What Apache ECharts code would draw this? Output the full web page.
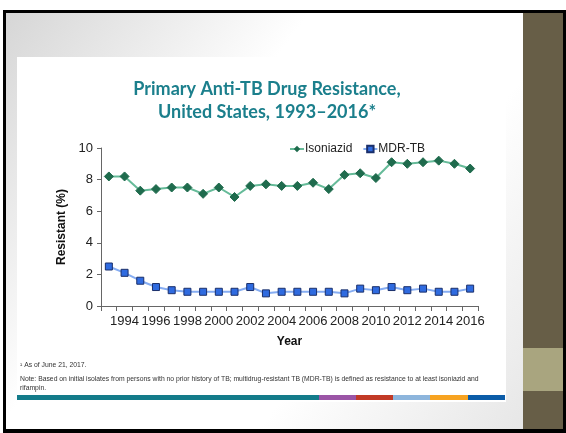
<!DOCTYPE html>
<html>
<head>
<meta charset="utf-8">
<script src="https://cdn.jsdelivr.net/npm/echarts@6/dist/echarts.min.js"></script>
<style>
  html, body { margin: 0; padding: 0; background: #ffffff; }
  #chart { width: 566px; height: 433px; }
</style>
</head>
<body>
<div id="chart"></div>
<script>
// Survey years and percent resistant among initial isolates
const years = ['1993','1994','1995','1996','1997','1998','1999','2000','2001','2002','2003','2004',
               '2005','2006','2007','2008','2009','2010','2011','2012','2013','2014','2015','2016'];
const isoniazid = [8.2, 8.2, 7.3, 7.4, 7.5, 7.5, 7.1, 7.5, 6.9, 7.6, 7.7, 7.6,
                   7.6, 7.8, 7.4, 8.3, 8.4, 8.1, 9.1, 9.0, 9.1, 9.2, 9.0, 8.7];
const mdrTB = [2.5, 2.1, 1.6, 1.2, 1.0, 0.9, 0.9, 0.9, 0.9, 1.2, 0.8, 0.9,
               0.9, 0.9, 0.9, 0.8, 1.1, 1.0, 1.2, 1.0, 1.1, 0.9, 0.9, 1.1];
const yTicks = [0, 2, 4, 6, 8, 10];
const stripeColors = ['#137b8a', '#9b55a6', '#c23a26', '#8db5dc', '#f7a321', '#0b5ca8'];

const narrow = '"Liberation Sans Narrow", "Liberation Sans", Arial, sans-serif';
const chart = echarts.init(document.getElementById('chart'), null, { renderer: 'canvas' });

// slide frame, side panel and footer stripe
const slide = [
  { type: 'rect', z: -10, shape: { x: 3, y: 10, width: 563, height: 423 },
    style: { fill: '#000000' } },
  { type: 'rect', z: -9, shape: { x: 6, y: 13, width: 557, height: 416 },
    style: { fill: new echarts.graphic.LinearGradient(0, 0, 1, 1, [
      { offset: 0, color: '#d6d6d6' }, { offset: 0.35, color: '#ffffff' },
      { offset: 0.65, color: '#ffffff' }, { offset: 1, color: '#e3e3e3' }]) } },
  { type: 'rect', z: -8, shape: { x: 523, y: 13, width: 40, height: 416 },
    style: { fill: '#675e47' } },
  { type: 'rect', z: -7, shape: { x: 523, y: 348, width: 40, height: 43 },
    style: { fill: '#a9a57f' } },
  { type: 'rect', z: -6, shape: { x: 17, y: 57, width: 489, height: 345 },
    style: { fill: '#ffffff' } },
  { type: 'text', left: 20, top: 362, style: {
      text: '¹ As of June 21, 2017.', font: '6.8px ' + narrow, fill: '#333' } },
  { type: 'text', left: 20, top: 375, style: {
      text: 'Note: Based on initial isolates from persons with no prior history of TB; multidrug-resistant TB (MDR-TB) is defined as resistance to at least isoniazid and\nrifampin.',
      font: '6.8px ' + narrow, fill: '#333', lineHeight: 9 } }
];
const stripeEdges = [17, 319, 356, 393, 430, 468, 505];
stripeColors.forEach((c, i) => {
  slide.push({ type: 'rect', z: -5,
    shape: { x: stripeEdges[i], y: 395, width: stripeEdges[i + 1] - stripeEdges[i], height: 5 },
    style: { fill: c } });
});

chart.setOption({
  animation: false,
  title: {
    text: 'Primary Anti-TB Drug Resistance,\nUnited States, 1993–2016*',
    left: 262, top: 73, textAlign: 'center',
    textStyle: { fontFamily: 'Lato, "Open Sans", sans-serif', fontSize: 18, fontWeight: 'bold',
                 color: '#1b7f8c', lineHeight: 23 }
  },
  legend: {
    left: 284, top: 138, itemWidth: 14, itemHeight: 8, itemGap: 10,
    textStyle: { fontFamily: narrow, fontSize: 12, color: '#222', padding: [0, 0, 0, -4] },
    data: ['Isoniazid', 'MDR-TB']
  },
  graphic: slide,
  grid: { left: 101, right: 88, top: 148, bottom: 127, containLabel: false },
  xAxis: {
    type: 'category', data: years, boundaryGap: true,
    name: 'Year', nameLocation: 'middle', nameGap: 30,
    nameTextStyle: { fontFamily: 'Liberation Sans, Arial, sans-serif', fontWeight: 'bold', fontSize: 12, color: '#111' },
    axisLine: { lineStyle: { color: '#666', width: 1 } },
    axisTick: { show: true, interval: 0, length: 5, lineStyle: { color: '#666' } },
    axisLabel: { interval: (i) => i % 2 === 1, fontFamily: narrow, fontSize: 13, color: '#222', margin: 9 }
  },
  yAxis: {
    type: 'value', min: yTicks[0], max: yTicks[yTicks.length - 1], interval: 2,
    name: 'Resistant (%)', nameLocation: 'middle', nameGap: 30, nameRotate: 90,
    nameTextStyle: { fontFamily: 'Liberation Sans, Arial, sans-serif', fontWeight: 'bold', fontSize: 12, color: '#111' },
    axisLine: { show: true, lineStyle: { color: '#666', width: 1 } },
    axisTick: { show: true, length: 4, inside: false, lineStyle: { color: '#666' } },
    axisLabel: { fontFamily: narrow, fontSize: 13, color: '#222', margin: 8 },
    splitLine: { show: false }
  },
  series: [
    { name: 'Isoniazid', type: 'line', data: isoniazid,
      symbol: 'diamond', symbolSize: 9,
      lineStyle: { color: '#66bb99', width: 2 },
      itemStyle: { color: '#1f6b4d', borderColor: '#1f6b4d' } },
    { name: 'MDR-TB', type: 'line', data: mdrTB,
      symbol: 'rect', symbolSize: 7,
      lineStyle: { color: '#86adf2', width: 2 },
      itemStyle: { color: '#2f6be0', borderColor: '#1a2f6a', borderWidth: 1 } }
  ]
});
</script>
</body>
</html>
